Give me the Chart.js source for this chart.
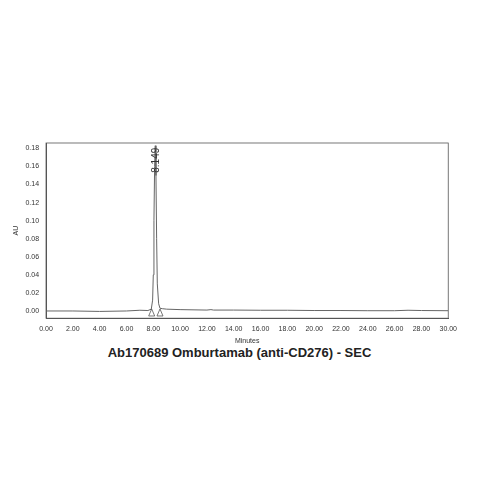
<!DOCTYPE html>
<html><head><meta charset="utf-8">
<script src="https://cdn.jsdelivr.net/npm/chart.js@4/dist/chart.umd.min.js"></script>
<style>body{margin:0;background:#fff;}#w{position:absolute;left:0;top:133px;width:460px;height:212px;}
#t{position:absolute;left:0;width:479px;top:345px;text-align:center;font:bold 13px "Liberation Sans",Arial,sans-serif;color:#222;}</style>
</head><body>
<div id="w"><canvas id="c"></canvas></div>
<div id="t">Ab170689 Omburtamab (anti-CD276) - SEC</div>
<script>
const times=[0,2,4,6,7,7.6,7.85,7.95,8.0,8.05,8.1,8.149,8.2,8.25,8.3,8.4,8.5,8.7,9,10,12,12.3,12.5,14,16,18,20,22,24,26,27,28,30];
const au=[0,0,-0.0005,0,0.0008,0.0005,0.002,0.012,0.04,0.1,0.16,0.183,0.15,0.08,0.03,0.008,0.003,0.0025,0.002,0.0015,0.001,0.0015,0.001,0.001,0.0008,0.0008,0.0005,0.0005,0.0003,0.0003,0.0008,0.0005,0.0003];
const peakLabel="8.149", peakTime=8.149, peakAU=0.183;
const marks=[7.88,8.5];
const xTicks=[0,2,4,6,8,10,12,14,16,18,20,22,24,26,28,30];
const plug={id:'ann',afterDatasetsDraw(ch){const c=ch.ctx,x=ch.scales.x,y=ch.scales.y,a=ch.chartArea;
c.save();c.strokeStyle='#555';c.lineWidth=0.8;c.strokeRect(a.left,a.top,a.right-a.left,a.bottom-a.top);
marks.forEach(m=>{const px=x.getPixelForValue(m),py=y.getPixelForValue(0);c.beginPath();c.moveTo(px-3,py+5);c.lineTo(px+3,py+5);c.lineTo(px,py-2);c.closePath();c.stroke();});
c.translate(x.getPixelForValue(peakTime)+1,y.getPixelForValue(peakAU)+2);c.rotate(-Math.PI/2);c.fillStyle='#333';c.font='10px "Liberation Sans",Arial';c.textBaseline='middle';c.textAlign='right';c.fillText(peakLabel,0,0);c.restore();}};
new Chart(document.getElementById('c'),{type:'line',data:{datasets:[{data:times.map((t,i)=>({x:t,y:au[i]})),borderColor:'#666',borderWidth:1,pointRadius:0,tension:0}]},
plugins:[plug],
options:{responsive:true,maintainAspectRatio:false,animation:false,layout:{padding:{left:10,right:0,top:10}},
plugins:{legend:{display:false},tooltip:{enabled:false}},
scales:{x:{type:'linear',min:0,max:30,afterBuildTicks:a=>{a.ticks=xTicks.map(v=>({value:v}));},
ticks:{font:{size:7,family:'Liberation Sans'},color:'#333',maxRotation:0,callback:v=>v.toFixed(2)},
grid:{display:false,drawTicks:true,tickLength:4},border:{color:'#555'},
title:{display:true,text:'Minutes',font:{size:7,family:'Liberation Sans'},color:'#333',padding:0}},
y:{min:-0.008,max:0.186,afterBuildTicks:a=>{a.ticks=[0,0.02,0.04,0.06,0.08,0.1,0.12,0.14,0.16,0.18].map(v=>({value:v}));},
ticks:{font:{size:7,family:'Liberation Sans'},color:'#333',callback:v=>v.toFixed(2)},
grid:{display:false,tickLength:4},border:{color:'#555'},
title:{display:true,text:'AU',font:{size:7,family:'Liberation Sans'},color:'#333',padding:2}}}}});
</script></body></html>
